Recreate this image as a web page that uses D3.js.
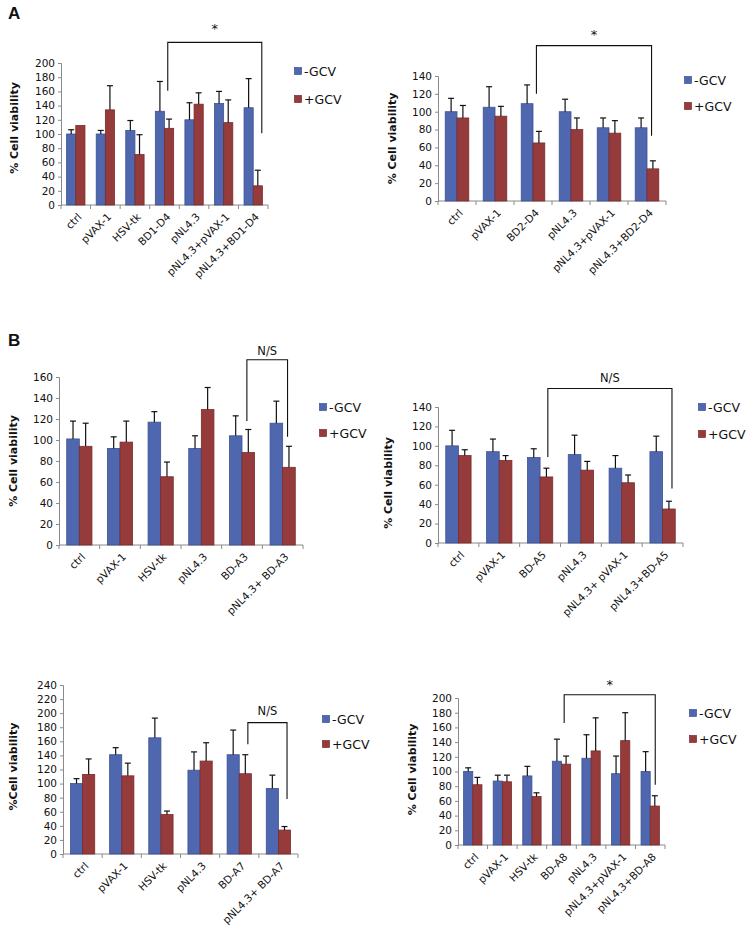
<!DOCTYPE html>
<html lang="en">
<head>
    <meta charset="UTF-8">
    <script src="https://d3js.org/d3.v7.min.js"></script>
    <title>Cell viability</title>
    <style>
        body { margin: 0; background: #fff; }
        text { font-family: "DejaVu Sans", Verdana, sans-serif; fill: #111; }
    </style>
</head>
<body>
    <div id="chart"></div>

    <script>
        // ---- data ----
        const seriesNames = ["-GCV", "+GCV"];

        const a1Cats = ["ctrl", "pVAX-1", "HSV-tk", "BD1-D4", "pNL4.3", "pNL4.3+pVAX-1", "pNL4.3+BD1-D4"];
        const a1Minus = [100, 100, 105, 132, 120, 143, 137];
        const a1MinusErr = [6, 5, 14, 42, 24, 17, 41];
        const a1Plus = [112, 134, 71, 108, 142, 116, 27];
        const a1PlusErr = [0, 34, 28, 13, 16, 32, 22];
        const a1Ticks = [0, 20, 40, 60, 80, 100, 120, 140, 160, 180, 200];

        const a2Cats = ["ctrl", "pVAX-1", "BD2-D4", "pNL4.3", "pNL4.3+pVAX-1", "pNL4.3+BD2-D4"];
        const a2Minus = [100, 105, 109, 100, 82, 82];
        const a2MinusErr = [15, 23, 21, 14, 11, 11];
        const a2Plus = [93, 95, 65, 80, 76, 36];
        const a2PlusErr = [14, 11, 13, 13, 14, 9];
        const a2Ticks = [0, 20, 40, 60, 80, 100, 120, 140];

        const b1Cats = ["ctrl", "pVAX-1", "HSV-tk", "pNL4.3", "BD-A3", "pNL4.3+ BD-A3"];
        const b1Minus = [101, 92, 117, 92, 104, 116];
        const b1MinusErr = [17, 11, 10, 12, 19, 21];
        const b1Plus = [94, 98, 65, 129, 88, 74];
        const b1PlusErr = [22, 20, 14, 21, 22, 20];
        const b1Ticks = [0, 20, 40, 60, 80, 100, 120, 140, 160];

        const b2Cats = ["ctrl", "pVAX-1", "BD-A5", "pNL4.3", "pNL4.3+ pVAX-1", "pNL4.3+BD-A5"];
        const b2Minus = [100, 94, 88, 91, 77, 94];
        const b2MinusErr = [16, 13, 9, 20, 13, 16];
        const b2Plus = [90, 85, 68, 75, 62, 35];
        const b2PlusErr = [6, 5, 9, 9, 8, 8];
        const b2Ticks = [0, 20, 40, 60, 80, 100, 120, 140];

        const b3Cats = ["ctrl", "pVAX-1", "HSV-tk", "pNL4.3", "BD-A7", "pNL4.3+ BD-A7"];
        const b3Minus = [100, 141, 165, 119, 141, 93];
        const b3MinusErr = [7, 10, 28, 26, 35, 19];
        const b3Plus = [113, 111, 56, 132, 114, 34];
        const b3PlusErr = [22, 18, 5, 26, 27, 5];
        const b3Ticks = [0, 20, 40, 60, 80, 100, 120, 140, 160, 180, 200, 220, 240];

        const b4Cats = ["ctrl", "pVAX-1", "HSV-tk", "BD-A8", "pNL4.3", "pNL4.3+pVAX-1", "pNL4.3+BD-A8"];
        const b4Minus = [100, 87, 94, 114, 118, 97, 100];
        const b4MinusErr = [5, 8, 13, 30, 32, 24, 27];
        const b4Plus = [82, 86, 66, 110, 128, 142, 53];
        const b4PlusErr = [10, 9, 5, 11, 45, 38, 14];
        const b4Ticks = [0, 20, 40, 60, 80, 100, 120, 140, 160, 180, 200];

        const blue = "#4f67ae", blueEdge = "#3d5295";
        const red = "#953b3b", redEdge = "#7b2b2b";

        const svg = d3.select("#chart").append("svg")
            .attr("width", 747)
            .attr("height", 943)
            .style("background", "#fff");

        svg.append("text").attr("x", 8).attr("y", 19)
            .style("font-family", "Liberation Sans, Arial, sans-serif")
            .style("font-weight", "bold").style("font-size", "17px").text("A");
        svg.append("text").attr("x", 8).attr("y", 346)
            .style("font-family", "Liberation Sans, Arial, sans-serif")
            .style("font-weight", "bold").style("font-size", "17px").text("B");

        // one panel = one grouped bar chart with error bars
        function drawPanel(p) {
            const g = svg.append("g");

            const x = d3.scaleBand().domain(p.cats).range([p.left, p.right]);
            const y = d3.scaleLinear().domain([0, d3.max(p.ticks)]).range([p.bottom, p.top]);
            const bw = x.bandwidth() * 0.31;

            // y axis
            g.append("g")
                .attr("transform", `translate(${p.left},0)`)
                .call(d3.axisLeft(y).tickValues(p.ticks).tickSize(3).tickPadding(3))
                .call(a => a.select(".domain").attr("stroke", "#8a8a8a"))
                .call(a => a.selectAll(".tick line").attr("stroke", "#8a8a8a"))
                .call(a => a.selectAll(".tick text")
                    .style("font-family", "DejaVu Sans, sans-serif")
                    .style("font-size", "10.5px").attr("fill", "#111"));

            // x axis: line plus ticks at category boundaries
            g.append("line")
                .attr("x1", p.left).attr("x2", p.right)
                .attr("y1", p.bottom).attr("y2", p.bottom)
                .attr("stroke", "#8a8a8a");
            g.selectAll(".xtick")
                .data(p.cats.map(c => x(c)).concat([p.right]))
                .join("line")
                .attr("x1", d => d).attr("x2", d => d)
                .attr("y1", p.bottom).attr("y2", p.bottom + 4)
                .attr("stroke", "#8a8a8a");

            g.selectAll(".xlab")
                .data(p.cats)
                .join("text")
                .attr("transform", d => `translate(${x(d) + x.bandwidth() / 2 + 4},${p.bottom + 10}) rotate(-45)`)
                .attr("text-anchor", "end")
                .attr("dy", "0.35em")
                .style("font-size", "10.5px")
                .text(d => d);

            // bars
            const rows = p.cats.map((c, i) => [
                { c, k: 0, v: p.minus[i], e: p.minusErr[i] },
                { c, k: 1, v: p.plus[i], e: p.plusErr[i] }
            ]).flat();
            const bx = d => x(d.c) + x.bandwidth() / 2 - bw + d.k * bw;

            g.selectAll(".bar")
                .data(rows)
                .join("rect")
                .attr("x", bx)
                .attr("y", d => y(d.v))
                .attr("width", bw)
                .attr("height", d => y(0) - y(d.v))
                .attr("fill", d => d.k === 0 ? blue : red)
                .attr("stroke", d => d.k === 0 ? blueEdge : redEdge)
                .attr("stroke-width", 0.8);

            // error bars (upper only)
            const eb = g.selectAll(".err").data(rows.filter(d => d.e > 0)).join("g");
            eb.append("line")
                .attr("x1", d => bx(d) + bw / 2).attr("x2", d => bx(d) + bw / 2)
                .attr("y1", d => y(d.v)).attr("y2", d => y(d.v + d.e))
                .attr("stroke", "#111").attr("stroke-width", 1.2);
            eb.append("line")
                .attr("x1", d => bx(d) + bw / 2 - 3).attr("x2", d => bx(d) + bw / 2 + 3)
                .attr("y1", d => y(d.v + d.e)).attr("y2", d => y(d.v + d.e))
                .attr("stroke", "#111").attr("stroke-width", 1.2);

            // y title
            g.append("text")
                .attr("transform", `translate(${p.titleX},${(p.top + p.bottom) / 2 + p.titleDy}) rotate(-90)`)
                .attr("text-anchor", "middle")
                .attr("dy", "0.35em")
                .style("font-weight", "bold")
                .style("font-size", "11px")
                .text(p.title);

            // legend
            const lg = g.selectAll(".leg").data(seriesNames).join("g")
                .attr("transform", (d, i) => `translate(${p.legX},${p.legY + i * p.legGap})`);
            lg.append("rect")
                .attr("x", -3.5).attr("y", -3.5).attr("width", 7).attr("height", 7)
                .attr("fill", (d, i) => i === 0 ? blue : red)
                .attr("stroke", (d, i) => i === 0 ? blueEdge : redEdge)
                .attr("stroke-width", 0.7);
            lg.append("text")
                .attr("x", 6).attr("dy", "0.36em")
                .style("font-size", "12.5px")
                .text(d => d);

            // significance bracket
            const s = p.sig;
            const sx1 = x(p.cats[s.from[0]]) + s.from[1] * x.bandwidth();
            const sx2 = x(p.cats[s.to[0]]) + s.to[1] * x.bandwidth();
            g.append("path")
                .attr("d", `M${sx1},${y(s.leftEnd)}V${y(s.top)}H${sx2}V${y(s.rightEnd)}`)
                .attr("fill", "none")
                .attr("stroke", "#111")
                .attr("stroke-width", 1.1);
            g.append("text")
                .attr("x", (sx1 + sx2) / 2)
                .attr("y", y(s.labelAt))
                .attr("text-anchor", "middle")
                .attr("dy", "0.35em")
                .style("font-size", s.label === "*" ? "13px" : "11.5px")
                .text(s.label);
        }

        const panels = [
            {
                cats: a1Cats, minus: a1Minus, minusErr: a1MinusErr, plus: a1Plus, plusErr: a1PlusErr, ticks: a1Ticks,
                left: 61, right: 268, top: 63, bottom: 205, title: "% Cell viability", titleX: 14, titleDy: -6,
                legX: 298, legY: 71, legGap: 28,
                sig: { from: [3, 0.61], to: [6, 0.79], top: 229, leftEnd: 161, rightEnd: 101, label: "*", labelAt: 248 }
            },
            {
                cats: a2Cats, minus: a2Minus, minusErr: a2MinusErr, plus: a2Plus, plusErr: a2PlusErr, ticks: a2Ticks,
                left: 438, right: 666, top: 76, bottom: 201, title: "% Cell viability", titleX: 392, titleDy: 0,
                legX: 688, legY: 80, legGap: 26,
                sig: { from: [2, 0.59], to: [5, 0.62], top: 174, leftEnd: 120, rightEnd: 73, label: "*", labelAt: 187 }
            },
            {
                cats: b1Cats, minus: b1Minus, minusErr: b1MinusErr, plus: b1Plus, plusErr: b1PlusErr, ticks: b1Ticks,
                left: 59, right: 303, top: 377, bottom: 545, title: "% Cell viability", titleX: 13, titleDy: 0,
                legX: 323, legY: 407, legGap: 26,
                sig: { from: [4, 0.62], to: [5, 0.62], top: 176.5, leftEnd: 118, rightEnd: 103, label: "N/S", labelAt: 185 }
            },
            {
                cats: b2Cats, minus: b2Minus, minusErr: b2MinusErr, plus: b2Plus, plusErr: b2PlusErr, ticks: b2Ticks,
                left: 438, right: 683, top: 407, bottom: 543, title: "% Cell viability", titleX: 388, titleDy: 8,
                legX: 702, legY: 407, legGap: 27,
                sig: { from: [2, 0.69], to: [5, 0.73], top: 159, leftEnd: 88.6, rightEnd: 56, label: "N/S", labelAt: 170 }
            },
            {
                cats: b3Cats, minus: b3Minus, minusErr: b3MinusErr, plus: b3Plus, plusErr: b3PlusErr, ticks: b3Ticks,
                left: 63, right: 298, top: 685, bottom: 854, title: "%Cell viability", titleX: 13, titleDy: -3,
                legX: 326, legY: 719, legGap: 25,
                sig: { from: [4, 0.72], to: [5, 0.72], top: 186.5, leftEnd: 156, rightEnd: 78, label: "N/S", labelAt: 203 }
            },
            {
                cats: b4Cats, minus: b4Minus, minusErr: b4MinusErr, plus: b4Plus, plusErr: b4PlusErr, ticks: b4Ticks,
                left: 458, right: 665, top: 698, bottom: 845, title: "% Cell viability", titleX: 412, titleDy: -2,
                legX: 693, legY: 713, legGap: 26,
                sig: { from: [3, 0.59], to: [6, 0.67], top: 204.5, leftEnd: 166, rightEnd: 82, label: "*", labelAt: 218 }
            }
        ];

        panels.forEach(drawPanel);
    </script>
</body>
</html>
